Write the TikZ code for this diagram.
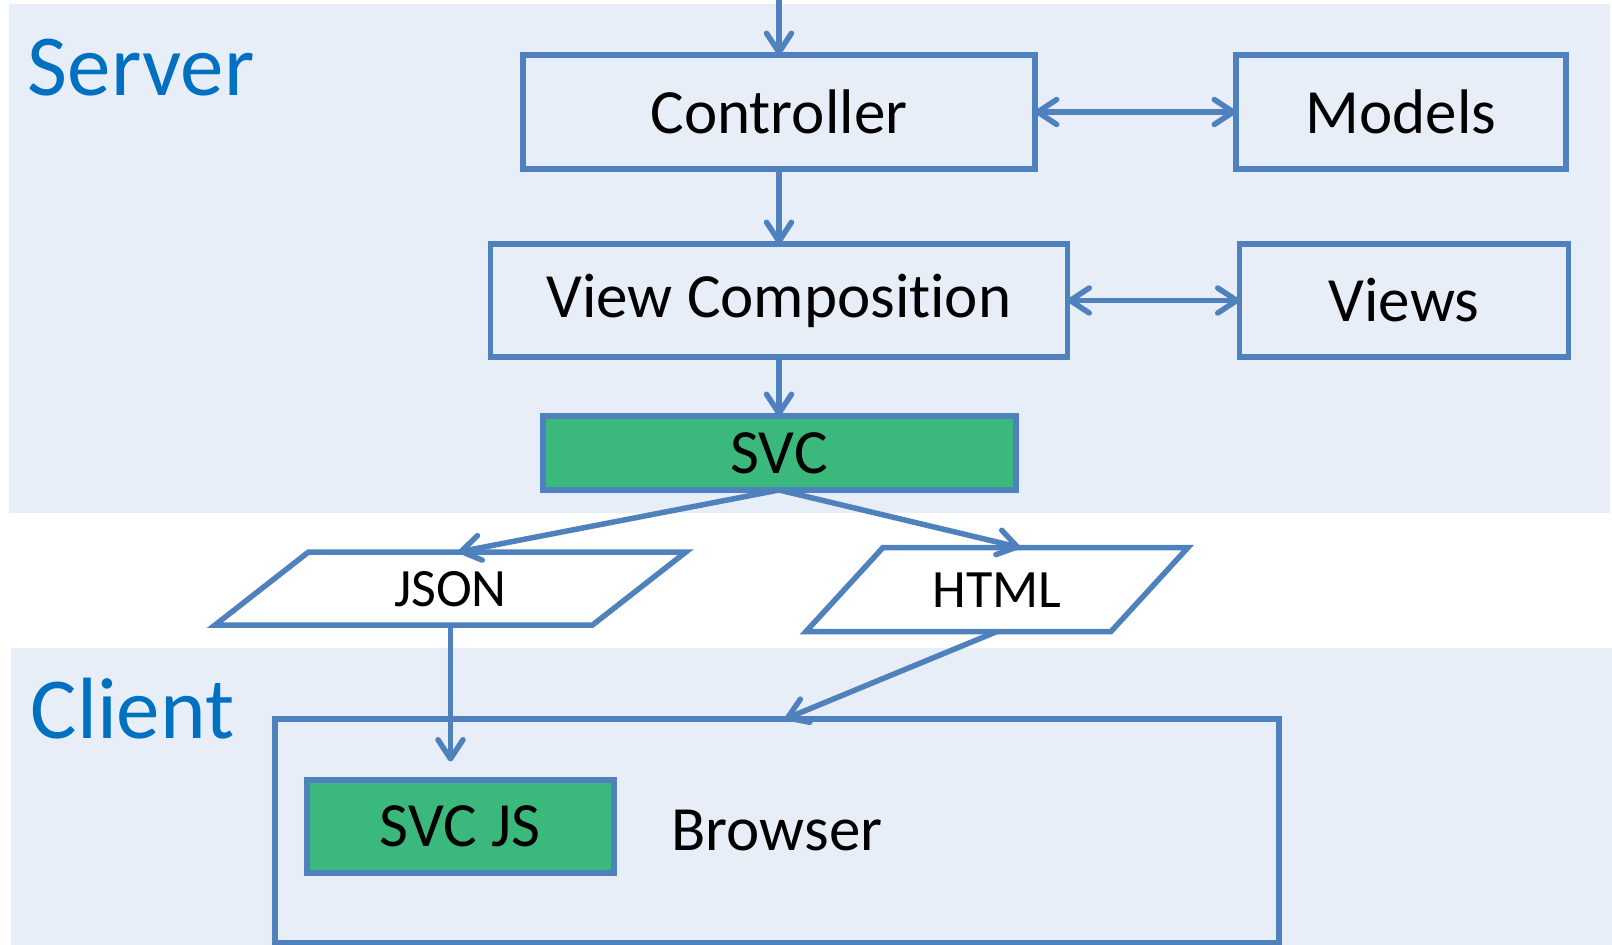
\documentclass[tikz,border=0pt]{standalone}
\usepackage{fontspec}
\setmainfont{Carlito}[Ligatures=CommonOff]
\usetikzlibrary{shapes.geometric, positioning}
\usetikzlibrary{arrows.meta}
\tikzset{>={Straight Barb[length=19pt,width=25pt,round]}}
\definecolor{linecol}{HTML}{4F81BD}
\definecolor{panelcol}{HTML}{E8EEF7}
\definecolor{svcgreen}{HTML}{3BB87C}
\definecolor{labelcol}{HTML}{0070C0}

\begin{document}
\begin{tikzpicture}[x=1pt, y=-1pt, line width=5.5pt,
    box/.style={rectangle, draw=linecol, inner sep=0pt, outer sep=0pt, font=\fontsize{63}{72}\selectfont},
    greenbox/.style={box, fill=svcgreen, line width=6pt},
    data/.style={trapezium, draw=linecol, fill=white, inner xsep=0pt, outer sep=0pt, align=center, text height=36pt, text depth=0pt, font=\fontsize{54}{62}\selectfont},
    side/.style={text=labelcol, inner sep=0pt, anchor=base west, font=\fontsize{87}{98}\selectfont},
    link/.style={->, draw=linecol, line width=5.5pt} ]

    \useasboundingbox (0,0) rectangle (1612,945);

    %Panels
    \fill[panelcol] (9,4) rectangle (1610,513);
    \fill[panelcol] (11,648) rectangle (1612,945);
    \node[side] (server) at (25,95) {Server};
    \node[side] (client) at (28,738) {Client};

    %Nodes
    \node[box, minimum width=512pt, minimum height=114pt] (controller) at (779,112) {Controller};
    \node[box, minimum width=330pt, minimum height=114pt] (models) [right=201pt of controller] {Models};
    \node[box, minimum width=577pt, minimum height=113pt] (viewcomp) [below=75pt of controller] {View Composition};
    \node[box, minimum width=329pt, minimum height=113pt] (views) [right=172pt of viewcomp] {Views};
    \node[greenbox, minimum width=473pt, minimum height=74pt] (svc) [below=59pt of viewcomp] {SVC};
    \node[data, trapezium left angle=38, trapezium right angle=142, text width=284pt, inner ysep=18.5pt] (json) at (450.5,588.5) {JSON};
    \node[data, trapezium left angle=47.5, trapezium right angle=132.5, text width=228pt, inner ysep=24pt] (html) at (997,589.5) {HTML};
    \node[box, minimum width=1004pt, minimum height=224pt] (browser) at (777,831) {Browser};
    \node[greenbox, minimum width=307pt, minimum height=93pt] (svcjs) at (460,826) {SVC JS};
    \coordinate[above=57pt of controller.north] (entry);

    %Lines
    \draw[link] (entry) -- (controller.north);
    \draw[link, <->] (controller) -- (models);
    \draw[link] (controller.south) -- (viewcomp.north);
    \draw[link, <->] (viewcomp) -- (views);
    \draw[link] (viewcomp.south) -- (svc.north);
    \draw[link] (svc.south) -- ([xshift=8pt]json.north);
    \draw[link] (svc.south) -- ([xshift=23pt]html.north);
    \draw[link, shorten >=18pt] (json.south) -- (json.south |- svcjs.north);
    \draw[link] (html.south) -- ([xshift=8pt]browser.north);
\end{tikzpicture}
\end{document}
